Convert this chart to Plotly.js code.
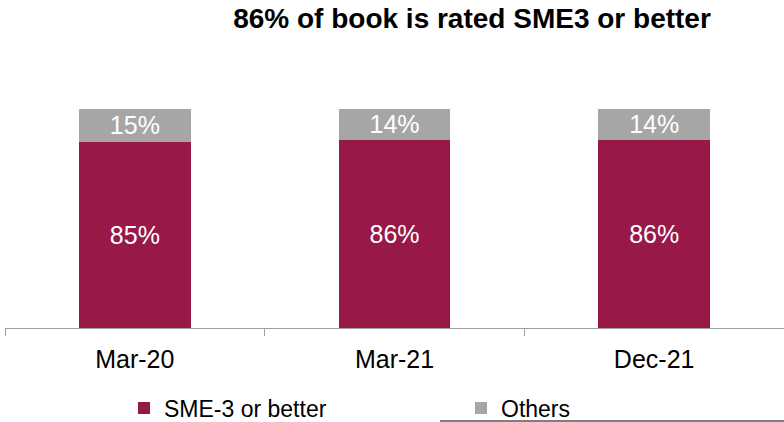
<!DOCTYPE html>
<html>
<head>
<meta charset="utf-8">
<script src="https://cdn.plot.ly/plotly-3.0.1.min.js"></script>
<style>html,body{margin:0;padding:0;background:#fff;}#chart{width:784px;height:422px;}</style>
</head>
<body>
<div id="chart"></div>
<script>
const categories = ["Mar-20", "Mar-21", "Dec-21"];
const smeValues = [85, 86, 86];
const otherValues = [15, 14, 14];
const seriesNames = ["SME-3 or better", "Others"];
const chartTitle = "86% of book is rated SME3 or better";

const FONT = "Liberation Sans, Arial, sans-serif";

const traces = [
  {
    type: "bar", name: seriesNames[0], x: categories, y: smeValues,
    marker: {color: "#981848"}, width: 0.43, legend: "legend",
    text: smeValues.map(v => v + "%"), textposition: "inside", insidetextanchor: "middle",
    constraintext: "none", textfont: {color: "#ffffff", size: 25, family: FONT},
    hoverinfo: "skip"
  },
  {
    type: "bar", name: seriesNames[1], x: categories, y: otherValues,
    marker: {color: "#a6a6a6"}, width: 0.43, legend: "legend2",
    text: otherValues.map(v => v + "%"), textposition: "inside", insidetextanchor: "middle",
    constraintext: "none", textfont: {color: "#ffffff", size: 25, family: FONT},
    hoverinfo: "skip"
  }
];

const legendFont = {size: 23, family: FONT, color: "#000000"};

const layout = {
  width: 784, height: 422,
  margin: {l: 5, r: 0, t: 109, b: 94},
  barmode: "stack",
  paper_bgcolor: "#ffffff", plot_bgcolor: "#ffffff",
  font: {family: FONT, color: "#000000"},
  title: {text: "<b>" + chartTitle + "</b>", x: 472 / 784, xanchor: "center", xref: "container",
          y: 0.956, yanchor: "middle", yref: "container",
          font: {size: 28, family: FONT, color: "#000000"}},
  xaxis: {type: "category", showline: true, linecolor: "#a0a0a0", linewidth: 1,
          ticks: "outside", tickson: "boundaries", ticklen: 7, tickcolor: "#a0a0a0",
          ticklabelstandoff: 9,
          tickfont: {size: 25, family: FONT, color: "#000000"}, showgrid: false,
          fixedrange: true, zeroline: false, automargin: false},
  yaxis: {range: [0, 100], visible: false, showgrid: false, zeroline: false, fixedrange: true, automargin: false},
  showlegend: true,
  legend: {orientation: "h", xref: "container", yref: "container", x: 124 / 784, xanchor: "left",
           y: 1 - 408 / 422, yanchor: "middle", font: legendFont, bgcolor: "rgba(0,0,0,0)"},
  legend2: {orientation: "h", xref: "container", yref: "container", x: 461 / 784, xanchor: "left",
            y: 1 - 408 / 422, yanchor: "middle", font: legendFont, bgcolor: "rgba(0,0,0,0)"},
  shapes: [{type: "line", xref: "paper", yref: "paper", x0: (440 - 5) / 779, x1: 1.01, y0: -0.425, y1: -0.425,
            line: {color: "#7f7f7f", width: 2}}]
};

Plotly.newPlot("chart", traces, layout, {displayModeBar: false, staticPlot: true});
</script>
</body>
</html>
